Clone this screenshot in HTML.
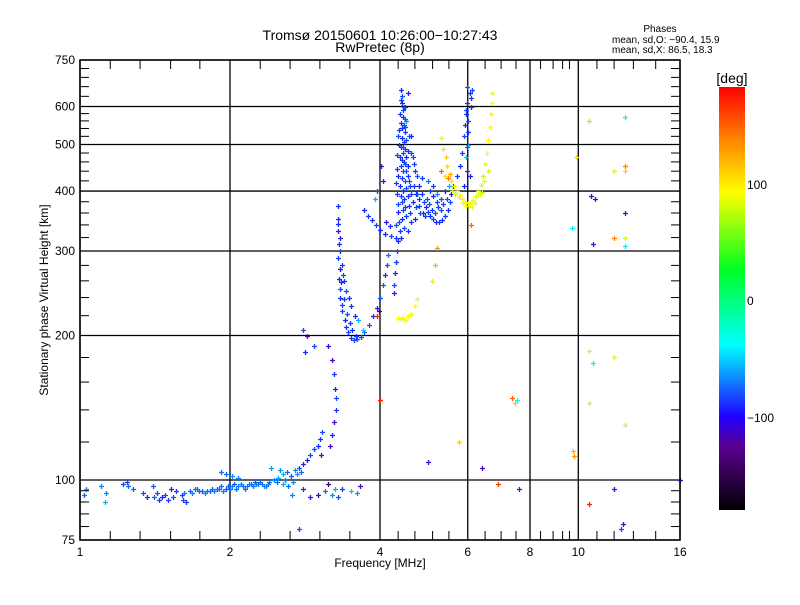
<!DOCTYPE html>
<html><head><meta charset="utf-8"><style>
body{margin:0;background:#fff}
svg text{font-family:"Liberation Sans",sans-serif;fill:#000}
</style></head><body>
<svg id="c" width="800" height="600" xmlns="http://www.w3.org/2000/svg">
<defs><linearGradient id="cb" x1="0" y1="1" x2="0" y2="0">
<stop offset="0" stop-color="#000"/><stop offset="0.15" stop-color="#5a0090"/><stop offset="0.22" stop-color="#2000ff"/><stop offset="0.39" stop-color="#00ffff"/><stop offset="0.57" stop-color="#00ff20"/><stop offset="0.75" stop-color="#ffff00"/><stop offset="0.88" stop-color="#ff8000"/><stop offset="1" stop-color="#ff0000"/></linearGradient></defs>
<text x="380" y="40" font-size="14" text-anchor="middle">Tromsø 20150601 10:26:00−10:27:43</text>
<text x="380" y="52" font-size="14" text-anchor="middle">RwPretec (8p)</text>
<text x="660" y="32" font-size="10" text-anchor="middle">Phases</text>
<text x="612" y="43" font-size="10">mean, sd,O: −90.4, 15.9</text>
<text x="612" y="53" font-size="10">mean, sd,X:  86.5, 18.3</text>
<g id="grid"></g>
<g id="pts"></g>
<g id="axes"></g>
<rect x="80" y="60" width="600" height="480" fill="none" stroke="#000" stroke-width="1.5"/>
<text x="380" y="567" font-size="12" text-anchor="middle">Frequency [MHz]</text>
<text transform="translate(48,300) rotate(-90)" font-size="12" text-anchor="middle">Stationary phase Virtual Height [km]</text>
<rect x="719" y="87" width="26" height="423" fill="url(#cb)"/>
<text x="732" y="83" font-size="14" text-anchor="middle">[deg]</text>
<text x="747" y="189" font-size="12">100</text>
<text x="747" y="305" font-size="12">0</text>
<text x="747" y="422" font-size="12">−100</text>
</svg>
<script>
const xMajor=[1,2,4,6,8,10,16];
const yMajor=[75,100,200,300,400,500,600,750];
const yMinor=[80,85,90,95,120,140,160,180,220,240,260,280,320,340,360,380,420,440,460,480,520,540,560,580,630,660,690,720];
const xMinor=[1.15,1.32,1.52,1.74,2.3,2.64,3.03,3.48,4.35,4.7,5.1,5.5,6.5,7,7.5,8.4,8.9,9.3,9.6,10.9,11.8,12.9,14.3];
// E layer trace [MHz, km, deg]
const eTrace=[[1.02,93,-80],[1.03,96,-70],[1.1,97,-75],[1.13,94,-70],[1.12,90,-60],[1.22,98,-90],[1.25,97,-80],[1.28,96,-85],[1.24,99,-95],[1.4,97,-85],[1.41,92,-85],[1.43,94,-90],[1.46,92,-100],[1.48,93,-90],[1.5,91,-95],[1.52,96,-110],[1.56,95,-95],[1.6,93,-95],[1.61,91,-90],[1.63,90,-95],[1.66,95,-85],[1.7,96,-80],[1.73,95,-80],[1.76,95,-85],[1.8,95,-80],[1.84,96,-85],[1.88,96,-85],[1.92,97,-80],[1.96,96,-85],[2.0,96,-80],[2.04,98,-85],[2.08,97,-75],[2.12,97,-80],[2.16,97,-75],[2.2,98,-80],[2.24,99,-85],[2.28,98,-80],[2.32,98,-75],[2.36,97,-80],[2.4,99,-80],[2.45,100,-70],[2.5,101,-65],[2.55,103,-60],[2.6,104,-80],[2.65,102,-85],[2.7,105,-70],[2.75,106,-90],[2.8,108,-100],[2.85,110,-110],[2.9,113,-90],[2.95,116,-90],[3.0,118,-100],[3.03,122,-95],[3.06,126,-90],[1.92,104,-80],[1.96,103,-80],[2.02,102,-70],[2.08,101,-75],[2.42,106,-65],[2.52,105,-70],[2.55,98,-60],[2.66,93,-75],[2.8,96,-100],[3.05,113,-110],[3.1,95,-80],[3.2,93,-70],[3.25,96,-60],[3.3,92,-90],[3.35,96,-95],[3.5,95,-55],[3.6,94,-70],[3.65,97,-120],[2.9,92,-110],[3.0,93,-130],[3.15,98,-140],[2.75,79,-90]];
const eDense=[[1.62,94,-80],[1.68,94,-75],[1.72,96,-80],[1.78,94,-75],[1.82,95,-80],[1.86,95,-75],[1.9,96,-80],[1.94,95,-75],[1.98,97,-80],[2.02,97,-75],[2.06,96,-80],[2.1,98,-75],[2.14,96,-80],[2.18,98,-75],[2.22,97,-80],[2.26,98,-75],[2.3,99,-80],[2.34,97,-75],[2.38,98,-80],[2.48,99,-80],[2.58,100,-75],[2.62,97,-80],[2.68,99,-70],[2.72,103,-70],[2.78,104,-80],[1.34,94,-90],[1.36,92,-100],[1.44,91,-95],[1.54,92,-90]];
// F1 trace and cusp
const f1Trace=[[2.8,205,-90],[2.85,200,-130],[2.83,185,-100],[2.95,190,-90],[3.15,190,-110],[3.2,178,-120],[3.23,166,-95],[3.25,155,-100],[3.27,148,-90],[3.26,140,-95],[3.24,132,-120],[3.21,124,-100],[3.17,118,-120],[3.3,372,-100],[3.29,350,-100],[3.3,330,-110],[3.31,310,-100],[3.3,290,-95],[3.32,275,-110],[3.31,262,-100],[3.33,250,-90],[3.32,240,-100],[3.35,232,-95],[3.36,225,-90],[3.4,215,-100],[3.42,208,-95],[3.45,203,-90],[3.5,198,-95],[3.55,196,-90],[3.6,197,-85],[3.66,199,-90],[3.72,203,-85],[3.8,210,-90],[3.88,220,-100],[3.95,228,-110],[4.0,240,-90],[4.05,255,-85],[4.1,268,-100],[4.13,280,-90],[4.15,295,-80],[3.38,260,-95],[3.42,248,-90],[3.46,240,-100],[3.5,230,-95],[3.56,220,-100],[3.62,215,-60],[3.7,205,-50],[3.95,220,170],[3.98,225,-140],[3.33,300,-90],[3.35,280,-95],[3.37,268,-90],[3.34,258,-100],[3.39,238,-95],[3.44,222,-90],[3.48,212,-95],[3.52,205,-100],[3.58,200,-95],[3.32,320,-110],[3.3,342,-100]];
// F oblique/trailing trace
const fLink=[[3.72,365,-100],[3.78,355,-95],[3.85,348,-100],[3.92,340,-95],[4.0,332,-100],[4.1,325,-100],[4.2,322,-90],[4.3,320,-95],[4.4,320,-100],[4.12,345,-110],[4.18,338,-100],[4.06,420,-100],[4.02,450,-110],[3.95,400,-90],[3.9,385,-60]];
// F2 O-mode
const f2O=[[4.4,650,-100],[4.42,630,-90],[4.43,610,-100],[4.45,590,-95],[4.44,570,-100],[4.46,550,-90],[4.42,540,-100],[4.48,530,-95],[4.43,515,-100],[4.47,505,-95],[4.4,495,-100],[4.5,490,-95],[4.44,480,-90],[4.38,470,-100],[4.52,470,-100],[4.46,460,-95],[4.4,450,-95],[4.56,450,-100],[4.45,440,-90],[4.35,430,-100],[4.55,430,-95],[4.48,420,-90],[4.38,410,-100],[4.6,410,-95],[4.45,400,-100],[4.32,395,-95],[4.55,390,-100],[4.42,380,-90],[4.65,380,-100],[4.5,370,-95],[4.35,362,-100],[4.6,360,-95],[4.42,350,-100],[4.3,340,-90],[4.7,350,-100],[4.38,330,-95],[4.35,315,-100],[4.33,300,-90],[4.3,285,-95],[4.28,270,-100],[4.27,255,-90],[4.26,245,-100],[4.52,560,-70],[4.58,520,-80],[4.62,480,-90],[4.68,455,-95],[4.75,430,-90],[4.8,410,-100],[4.85,395,-95],[4.9,380,-90],[4.95,370,-100],[5.0,362,-95],[5.05,355,-100],[5.1,350,-95],[5.18,345,-100],[5.25,345,-95],[5.32,348,-100],[5.4,355,-95],[5.48,365,-100],[5.52,380,-90],[4.72,395,-100],[4.8,372,-95],[4.88,360,-100],[4.98,385,-90],[5.1,390,-100],[5.2,380,-95],[5.3,385,-90],[5.4,400,-100],[5.12,410,-95],[5.0,420,-80],[5.55,395,-110],[5.6,410,-100],[5.7,430,-95],[5.78,450,-100],[5.85,480,-95],[5.9,520,-90],[5.92,550,-100],[5.95,580,-95],[5.98,610,-100],[6.05,640,-100],[6.12,650,-90],[6.08,600,-95],[6.0,560,-90],[6.02,500,-60],[5.95,470,-55],[5.97,440,-100],[6.05,430,-110],[5.9,410,-100],[4.62,520,-100],[4.35,520,-90],[4.5,600,-100],[4.56,640,-100]];
const f2Dense=[[4.41,620,-95],[4.47,600,-90],[4.39,580,-95],[4.49,565,-90],[4.4,555,-95],[4.5,545,-90],[4.37,535,-95],[4.52,510,-90],[4.36,500,-95],[4.45,495,-90],[4.55,485,-95],[4.33,475,-90],[4.42,465,-95],[4.5,455,-90],[4.32,445,-95],[4.52,440,-90],[4.42,425,-95],[4.58,420,-90],[4.3,415,-95],[4.52,405,-90],[4.4,390,-95],[4.62,395,-90],[4.47,385,-95],[4.35,375,-90],[4.57,372,-95],[4.45,365,-90],[4.52,355,-95],[4.36,345,-90],[4.62,345,-95],[4.47,335,-90],[4.55,330,-95],[4.72,370,-90],[4.78,385,-95],[4.82,360,-90],[4.92,355,-95],[5.02,375,-90],[5.08,365,-95],[5.15,360,-90],[5.22,370,-95],[5.3,365,-90],[5.35,375,-95],[5.45,385,-90],[4.68,410,-95],[4.75,395,-90],[4.7,440,-95],[4.65,470,-90],[4.85,425,-95],[5.05,400,-90],[5.5,410,-60],[5.2,395,-70],[5.98,660,-90],[6.08,625,-95],[5.96,590,-90],[6.02,530,-95],[5.98,495,-90]];
// F2 X-mode (yellow)
const f2X=[[5.3,515,95],[5.35,490,100],[5.42,470,110],[5.45,450,105],[5.52,435,120],[5.4,430,100],[5.55,420,100],[5.62,410,95],[5.7,400,90],[5.78,392,95],[5.85,385,100],[5.92,380,90],[6.0,378,95],[6.08,380,90],[6.15,384,85],[6.22,390,80],[6.3,400,85],[6.38,412,80],[6.45,430,75],[6.5,455,85],[6.55,480,90],[6.6,510,95],[6.65,545,90],[6.68,580,95],[6.7,610,90],[6.72,640,85],[5.58,400,80],[5.65,395,75],[6.12,370,85],[6.42,398,70],[6.58,440,80],[5.3,440,150],[5.48,425,140],[4.35,218,90],[4.45,218,95],[4.55,220,90],[4.62,222,85],[4.7,230,90],[4.75,238,95],[5.15,280,120],[5.2,305,130],[5.08,260,100],[5.75,388,95],[5.88,378,90],[5.95,372,95],[6.05,375,90],[6.2,378,85],[6.35,395,80],[6.48,420,85],[4.5,215,90],[4.4,216,95]];
// scattered echoes
const scatter=[[7.35,148,150],[7.45,145,110],[7.55,147,-40],[9.8,112,130],[9.75,115,120],[10.5,186,80],[10.5,145,80],[10.7,175,-40],[11.8,180,80],[12.4,130,80],[10.5,560,110],[12.4,570,-40],[11.8,440,80],[12.4,450,140],[12.4,440,110],[10.6,390,-120],[10.8,385,-110],[12.4,360,-110],[11.8,320,140],[12.4,320,80],[12.4,308,-40],[10.7,310,-110],[9.9,470,100],[9.7,335,-40],[6.1,340,150],[7.6,96,-110],[5.0,109,-110],[6.4,106,-120],[6.9,98,160],[10.5,89,170],[11.8,96,-110],[12.3,81,-110],[12.2,79,-90],[16,100,-120],[5.75,120,110],[4.0,147,170]];
const allTraces={eTrace,eDense,f1Trace,fLink,f2O,f2Dense,f2X,scatter};

const X0=80,X1=680,Y0=540,Y1=60;
const xs=f=>X0+(X1-X0)*Math.log2(f)/4;
const ys=h=>Y0-(Y0-Y1)*Math.log10(h/75);
const NS='http://www.w3.org/2000/svg';
function mk(tag,attrs,parent){const e=document.createElementNS(NS,tag);for(const k in attrs)e.setAttribute(k,attrs[k]);parent.appendChild(e);return e;}
const stops=[[-180,[0,0,0]],[-128,[90,0,160]],[-100,[20,40,255]],[-37,[0,255,255]],[28,[0,255,32]],[91,[255,255,0]],[140,[255,128,0]],[180,[255,0,0]]];
function col(p){for(let i=1;i<stops.length;i++){if(p<=stops[i][0]){const a=stops[i-1],b=stops[i],t=(p-a[0])/(b[0]-a[0]);return 'rgb('+a[1].map((v,j)=>Math.round(v+(b[1][j]-v)*t)).join(',')+')';}}return 'rgb(255,0,0)';}
const grid=document.getElementById('grid'),axes=document.getElementById('axes'),pts=document.getElementById('pts');
xMajor.forEach(f=>{const x=xs(f);
 const l=mk('line',{x1:x,x2:x,y1:Y1,y2:Y0,stroke:'#000','stroke-width':1.3},grid);
 
 
 const t=mk('text',{x:x,y:556,'font-size':12,'text-anchor':'middle'},axes);t.textContent=f;
 
 });
yMajor.forEach(h=>{const y=ys(h);
 const l=mk('line',{x1:X0,x2:X1,y1:y,y2:y,stroke:'#000','stroke-width':1.3},grid);
 
 
 const t=mk('text',{x:75,y:y+4,'font-size':12,'text-anchor':'end'},axes);t.textContent=h;
 
 });
xMinor.forEach(f=>{const x=xs(f);
 const a=mk('line',{x1:x,x2:x,y1:Y0,y2:Y0-9,stroke:'#000'},axes);
 
 
 const b=mk('line',{x1:x,x2:x,y1:Y1,y2:Y1+9,stroke:'#000'},axes);
 
 });
yMinor.forEach(h=>{const y=ys(h);
 const a=mk('line',{x1:X0,x2:X0+9,y1:y,y2:y,stroke:'#000'},axes);
 
 
 const b=mk('line',{x1:X1,x2:X1-9,y1:y,y2:y,stroke:'#000'},axes);
 
 });
for(const name in allTraces){allTraces[name].forEach(p=>{
 const x=Math.round(xs(p[0])),y=Math.round(ys(p[1]));
 const d=mk('path',{d:`M${x-2} ${y+0.5}h5M${x+0.5} ${y-2}v5`,stroke:col(p[2]),'stroke-width':1.3,fill:'none'},pts);
 
 });}
</script>
</body></html>
